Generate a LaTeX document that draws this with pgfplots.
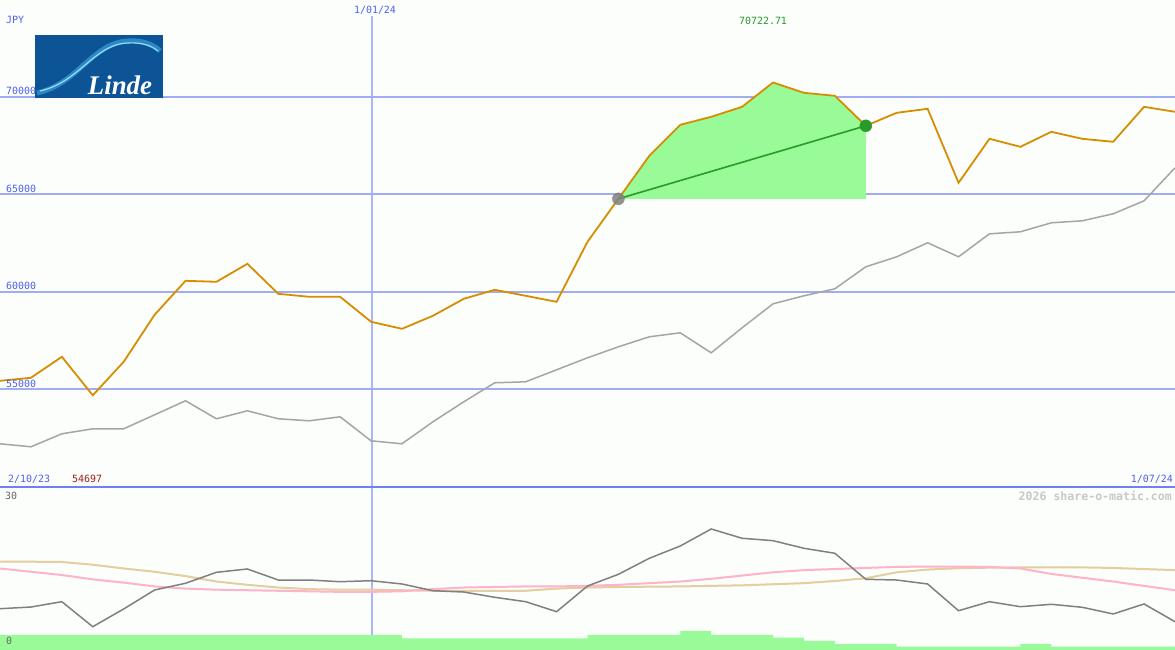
\documentclass[border=0pt]{standalone}
\usepackage{pgfplots}
\pgfplotsset{compat=1.18}
\usepackage{pgfplotstable}
\usepackage{fontspec}
\setmainfont{DejaVu Sans}
\newfontfamily\pix{DejaVu Sans Mono}
\newfontfamily\logofont{Liberation Serif}

\definecolor{bgc}{RGB}{251,254,251}
\definecolor{gridblue}{RGB}{162,172,240}
\definecolor{vline}{RGB}{172,182,246}
\definecolor{sepblue}{RGB}{112,128,240}
\definecolor{lblblue}{RGB}{80,96,240}
\definecolor{price}{RGB}{214,142,0}
\definecolor{cmpgray}{RGB}{165,165,165}
\definecolor{oscgray}{RGB}{128,128,128}
\definecolor{oscpink}{RGB}{255,178,200}
\definecolor{osctan}{RGB}{226,206,158}
\definecolor{pale}{RGB}{152,251,152}
\definecolor{gainline}{RGB}{40,155,40}
\definecolor{minred}{RGB}{160,30,30}
\definecolor{wmark}{RGB}{200,200,200}
\definecolor{logobg}{RGB}{12,84,150}
\definecolor{logoswoosh}{RGB}{70,180,235}

% weekly closes, 2/10/23 .. 1/07/24
\pgfplotstableread{
i price cmp
0 55440 52213
1 55594 52059
2 56670 52725
3 54697 52981
4 56414 52981
5 58822 53699
6 60563 54416
7 60512 53494
8 61434 53904
9 59897 53494
10 59744 53391
11 59744 53596
12 58463 52367
13 58104 52213
14 58770 53340
15 59641 54365
16 60102 55338
17 59795 55389
18 59487 56004
19 62561 56619
20 64764 57182
21 66967 57695
22 68555 57899
23 68965 56875
24 69477 58155
25 70723 59385
26 70195 59795
27 70041 60154
28 68504 61281
29 69170 61793
30 69375 62510
31 65584 61793
32 67838 62971
33 67428 63074
34 68197 63535
35 67838 63637
36 67684 63996
37 69477 64662
38 69221 66352
}\pricedata

% lower panel oscillators
\pgfplotstableread{
i osc pink tan
0 7.60 15.0 16.25
1 7.91 14.4 16.25
2 8.89 13.8 16.2
3 4.29 13.0 15.7
4 7.55 12.4 15.0
5 11.04 11.7 14.4
6 12.28 11.3 13.6
7 14.30 11.1 12.6
8 14.91 11.0 12.0
9 12.88 10.9 11.5
10 12.88 10.8 11.2
11 12.57 10.7 11.1
12 12.75 10.7 11.1
13 12.15 10.8 11.0
14 10.91 11.2 10.9
15 10.67 11.5 10.9
16 9.70 11.6 10.9
17 8.89 11.7 10.9
18 7.05 11.7 11.3
19 11.78 11.8 11.5
20 13.93 12.0 11.6
21 16.88 12.3 11.65
22 19.14 12.6 11.7
23 22.27 13.1 11.8
24 20.56 13.7 11.9
25 20.12 14.3 12.1
26 18.72 14.7 12.3
27 17.80 14.9 12.7
28 13.01 15.1 13.2
29 12.88 15.3 14.3
30 12.15 15.35 14.8
31 7.23 15.35 15.05
32 8.89 15.3 15.15
33 7.97 15.0 15.2
34 8.41 14.0 15.22
35 7.86 13.3 15.2
36 6.63 12.6 15.1
37 8.47 11.8 14.9
38 5.21 11.0 14.7
}\oscdata

\pgfplotstableread{
i vol
0 2.76
1 2.76
2 2.76
3 2.76
4 2.76
5 2.76
6 2.76
7 2.76
8 2.76
9 2.76
10 2.76
11 2.76
12 2.76
13 2.15
14 2.15
15 2.15
16 2.15
17 2.15
18 2.15
19 2.76
20 2.76
21 2.76
22 3.50
23 2.76
24 2.76
25 2.26
26 1.66
27 1.10
28 1.10
29 0.61
30 0.61
31 0.61
32 0.61
33 1.10
34 0.61
35 0.61
36 0.61
37 0.61
38 0.61
}\voldata

\begin{document}
\begin{tikzpicture}[x=1bp,y=1bp]
\fill[bgc] (0,0) rectangle (1175,650);
\draw[vline, line width=1.2bp] (372,0) -- (372,634);

% main price panel
\begin{axis}[at={(0,163bp)}, anchor=south west, scale only axis,
  width=1175bp, height=487bp,
  xmin=0, xmax=38, ymin=50000, ymax=74950,
  axis line style={draw=none}, major tick length=0pt,
  xtick=\empty, ytick={55000,60000,65000,70000}, yticklabels={},
  ymajorgrids, grid style={gridblue, line width=2bp}]
  \addplot[fill=pale, draw=none] coordinates {
    (20,64764) (21,66967) (22,68555) (23,68965) (24,69477) (25,70723)
    (26,70195) (27,70041) (28,68504) (28,64764)} -- cycle;
  \addplot[cmpgray, line width=1.5bp] table[x=i, y=cmp] {\pricedata};
  \addplot[price, line width=1.8bp] table[x=i, y=price] {\pricedata};
  \addplot[gainline, line width=1.6bp] coordinates {(20,64764) (28,68504)};
  \addplot[only marks, mark=*, mark size=6bp, oscgray, opacity=0.85] coordinates {(20,64764)};
  \addplot[only marks, mark=*, mark size=6bp, gainline] coordinates {(28,68504)};
\end{axis}

% lower panel
\begin{axis}[at={(0,0)}, anchor=south west, scale only axis,
  width=1175bp, height=163bp,
  xmin=0, xmax=38, ymin=0, ymax=30,
  axis line style={draw=none}, major tick length=0pt,
  xtick=\empty, ytick=\empty]
  \addplot[const plot, fill=pale, draw=none] table[x=i, y=vol] {\voldata} \closedcycle;
  \addplot[osctan, line width=2bp] table[x=i, y=tan] {\oscdata};
  \addplot[oscpink, line width=2bp] table[x=i, y=pink] {\oscdata};
  \addplot[oscgray, line width=1.5bp] table[x=i, y=osc] {\oscdata};
\end{axis}

\draw[sepblue, line width=2bp] (0,163) -- (1175,163);

% labels
\begin{scope}[font=\pix\fontsize{10}{10}\selectfont, inner sep=0pt]
  \node[lblblue, anchor=west] at (6,630) {JPY};
  \node[lblblue] at (375,640) {1/01/24};
  \node[gainline] at (763,629) {70722.71};
  \node[lblblue, anchor=west] at (6,559) {70000};
  \node[lblblue, anchor=west] at (6,461) {65000};
  \node[lblblue, anchor=west] at (6,364) {60000};
  \node[lblblue, anchor=west] at (6,266) {55000};
  \node[lblblue, anchor=west] at (8,171) {2/10/23};
  \node[minred, anchor=west] at (72,171) {54697};
  \node[lblblue, anchor=east] at (1173,171) {1/07/24};
  \node[black!60, anchor=west] at (5,154) {30};
  \node[black!60, anchor=west] at (6,9) {0};
  \node[wmark, anchor=east, font=\pix\bfseries\fontsize{11.6}{11.6}\selectfont] at (1172,154) {2026 share-o-matic.com};
\end{scope}

% logo
\fill[logobg] (35,552) rectangle (163,615);
\draw[logoswoosh, line width=5bp, opacity=0.55] (37,557) .. controls (78,566) and (92,607) .. (128,609) .. controls (145,610) and (155,604) .. (160,599);
\draw[white!60!cyan, line width=1.2bp] (40,559) .. controls (80,568) and (94,606) .. (128,607) .. controls (144,608) and (153,603) .. (158,599);
\node[white, font=\logofont\bfseries\itshape\fontsize{27}{27}\selectfont] at (120,565) {Linde};

\pgfresetboundingbox
\useasboundingbox (0,0) rectangle (1175,650);
\end{tikzpicture}
\end{document}
